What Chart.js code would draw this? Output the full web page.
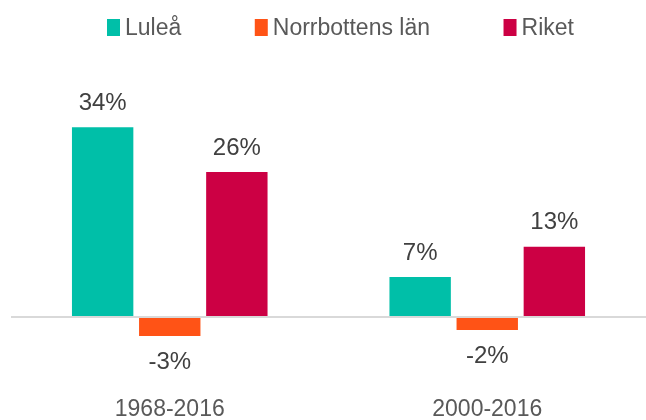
<!DOCTYPE html>
<html>
<head>
<meta charset="utf-8">
<script src="https://cdn.jsdelivr.net/npm/chart.js@4"></script>
<style>
html,body{margin:0;padding:0;background:#fff;}
#wrap{width:646px;height:420px;position:relative;}
</style>
</head>
<body>
<div id="wrap"><canvas id="c"></canvas></div>
<script>
const categories = ['1968-2016', '2000-2016'];
const seriesNames = ['Luleå', 'Norrbottens län', 'Riket'];
const lulea = [34, 7.2];
const norrbotten = [-3.4, -2.3];
const riket = [26, 12.6];
const colors = ['#00BFA8', '#FF5316', '#CC0044'];

const FONT = '"Liberation Sans", Arial, sans-serif';

const labelPlugin = {
  id: 'barLabels',
  afterDatasetsDraw(chart) {
    const ctx = chart.ctx;
    ctx.save();
    ctx.font = '24px ' + FONT;
    ctx.fillStyle = '#404040';
    ctx.textAlign = 'center';
    ctx.textBaseline = 'middle';
    chart.data.datasets.forEach((ds, i) => {
      const meta = chart.getDatasetMeta(i);
      meta.data.forEach((bar, j) => {
        const v = ds.data[j];
        const txt = Math.round(v) + '%';
        const y = v >= 0 ? bar.y - 24 : bar.y + 26;
        ctx.fillText(txt, bar.x, y);
      });
    });
    ctx.restore();
  }
};

const legendPlugin = {
  id: 'customLegend',
  afterDraw(chart) {
    const ctx = chart.ctx;
    ctx.save();
    ctx.font = '23px ' + FONT;
    ctx.textBaseline = 'middle';
    ctx.textAlign = 'left';
    let x = 107;
    const boxTop = 19, boxW = 13, boxH = 17, gap = 5, itemGap = 73.5;
    chart.data.datasets.forEach((ds) => {
      ctx.fillStyle = ds.backgroundColor;
      ctx.fillRect(x, boxTop, boxW, boxH);
      ctx.fillStyle = '#595959';
      ctx.fillText(ds.label, x + boxW + gap, boxTop + boxH / 2 + 1);
      x += boxW + gap + ctx.measureText(ds.label).width + itemGap;
    });
    ctx.restore();
  }
};

new Chart(document.getElementById('c'), {
  type: 'bar',
  data: {
    labels: categories,
    datasets: [
      { label: seriesNames[0], data: lulea, backgroundColor: colors[0] },
      { label: seriesNames[1], data: norrbotten, backgroundColor: colors[1] },
      { label: seriesNames[2], data: riket, backgroundColor: colors[2] }
    ]
  },
  options: {
    responsive: true,
    maintainAspectRatio: false,
    animation: false,
    devicePixelRatio: 1,
    layout: { padding: { left: 11, right: 0, top: 60, bottom: -13 } },
    datasets: { bar: { barPercentage: 0.915, categoryPercentage: 0.634 } },
    plugins: {
      legend: { display: false },
      tooltip: { enabled: false }
    },
    scales: {
      x: {
        grid: { display: false, drawTicks: false },
        border: { display: false },
        ticks: {
          color: '#595959',
          padding: 10,
          font: { family: FONT, size: 23 }
        }
      },
      y: {
        min: -12.23,
        max: 46.04,
        display: true,
        ticks: { display: false, stepSize: 1 },
        border: { display: false },
        grid: {
          drawTicks: false,
          lineWidth: 2,
          color: (c) => (c.tick && c.tick.value === 0 ? '#D9D9D9' : 'rgba(0,0,0,0)')
        }
      }
    }
  },
  plugins: [labelPlugin, legendPlugin]
});
</script>
</body>
</html>
